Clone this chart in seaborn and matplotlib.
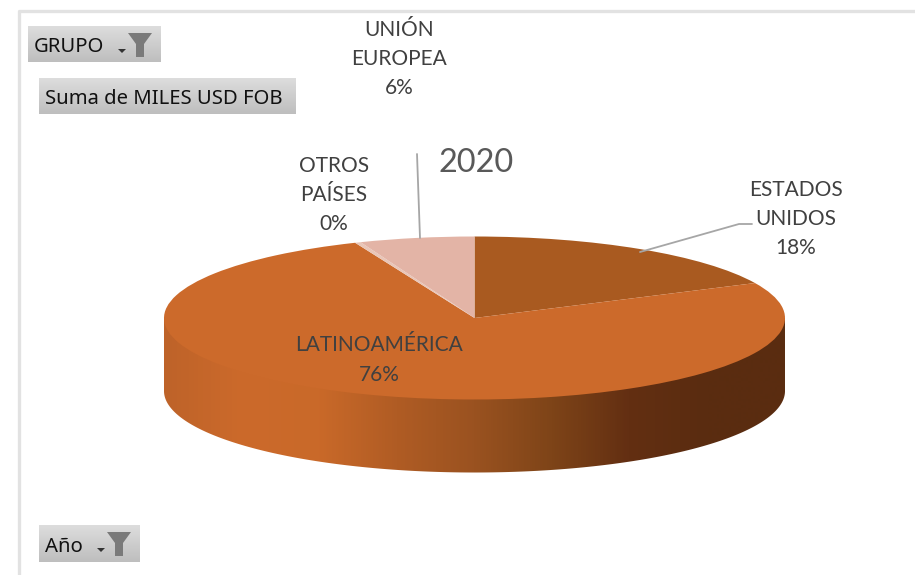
import numpy as np
import matplotlib
matplotlib.use("Agg")
import matplotlib.pyplot as plt
import seaborn as sns
from matplotlib.patches import PathPatch, Polygon
from matplotlib.path import Path

# Data
categories = ["ESTADOS\nUNIDOS", "LATINOAMÉRICA", "OTROS\nPAÍSES", "UNIÓN\nEUROPEA"]
values = [18, 76, 0.3, 6]
pct_labels = ["18%", "76%", "0%", "6%"]
slice_colors = ["#A95A20", "#CC6A2B", "#E9C6B8", "#E3B4A6"]
title = "2020"
buttons = ["GRUPO", "Suma de MILES USD FOB", "Año"]

# Gradient stops of the pie's side wall
wall_stops = ["#BE6329", "#CC6A2B", "#C96929", "#B05C24", "#9A5220",
              "#7E4418", "#632F12", "#5A2C10", "#5A2D10"]

sns.set_theme(style="white")
plt.rcParams["font.family"] = ["Lato", "DejaVu Sans"]

W, H = 915, 575
fig = plt.figure(figsize=(W / 100, H / 100), dpi=100, facecolor="white")


def pixel_axes(z):
    a = fig.add_axes([0, 0, 1, 1], zorder=z)
    a.set_xlim(0, W)
    a.set_ylim(H, 0)
    a.axis("off")
    a.patch.set_alpha(0)
    return a


back = pixel_axes(0)
front = pixel_axes(2)

# Geometry of the flattened pie, in pixels
cx, cy, rx, ry, depth = 474.5, 318, 310.5, 81.5, 73

# Chart frame
back.plot([18.5, 18.5, W], [H, 10.5, 10.5], color="#E2E2E2", lw=2.4, solid_capstyle="butt")

# Side wall: reaches up behind the top face so no seam shows
t = np.linspace(0, np.pi, 300)
xs = cx + rx * np.cos(t)
ys = cy + ry * np.sin(t) + depth
wall_xy = np.column_stack([np.r_[cx + rx, xs, cx - rx, cx + rx], np.r_[cy, ys, cy, cy]])
patch = PathPatch(Path(wall_xy, closed=True), facecolor="none", edgecolor="none",
                  transform=back.transData)
back.add_patch(patch)
cmap = sns.blend_palette(wall_stops, n_colors=256, as_cmap=True)
grad_pos = np.linspace(0, 1, 622)[None, :]
im = back.imshow(grad_pos, cmap=cmap, aspect="auto", vmin=0, vmax=1,
                 extent=(cx - rx, cx + rx, H, 0), zorder=1, interpolation="bilinear")
im.set_clip_path(patch)
back.set_xlim(0, W)
back.set_ylim(H, 0)

# Top face of the pie
pie_ax = fig.add_axes([(cx - rx) / W, 1 - (cy + ry) / H, 2 * rx / W, 2 * ry / H], zorder=1)
pie_ax.pie(values, colors=slice_colors, startangle=90, counterclock=False, radius=1,
           wedgeprops=dict(linewidth=0))
pie_ax.set_aspect("auto")
pie_ax.set_xlim(-1, 1)
pie_ax.set_ylim(-1, 1)
pie_ax.axis("off")
pie_ax.patch.set_alpha(0)

# Leader lines
front.plot([417, 420], [154, 238], color="#A6A6A6", lw=1.3)
front.plot([640, 739, 752], [252, 224, 224], color="#A6A6A6", lw=1.3)

# Data labels
txt = dict(color="#404040", fontsize=15, ha="center", va="center", linespacing=1.58)
front.text(796, 219, f"{categories[0]}\n{pct_labels[0]}", **txt)
front.text(379, 360, f"{categories[1]}\n{pct_labels[1]}", **txt)
front.text(334, 195, f"{categories[2]}\n{pct_labels[2]}", **txt)
front.text(399, 59, f"{categories[3]}\n{pct_labels[3]}", **txt)
front.text(476.5, 163, title, color="#595959", fontsize=23.4, ha="center", va="center")


# Pivot-chart field buttons
def button(x0, y0, x1, y1, label, funnel):
    g = sns.blend_palette(["#DDDDDD", "#BEBEBE"], n_colors=64, as_cmap=True)
    back.imshow(np.linspace(0, 1, 64)[:, None], cmap=g, aspect="auto", vmin=0, vmax=1,
                extent=(x0, x1, y1, y0), zorder=2)
    back.set_xlim(0, W)
    back.set_ylim(H, 0)
    front.text(x0 + 6, (y0 + y1) / 2 + 3, label, color="#111111", fontsize=14.6,
               family=["Noto Sans", "DejaVu Sans"], ha="left", va="center")
    if funnel:
        fx = x1 - 21
        fy = y0 + 7
        front.add_patch(Polygon([(fx - 12, fy), (fx + 12, fy), (fx + 4, fy + 11),
                                 (fx + 4, fy + 24), (fx - 4, fy + 24), (fx - 4, fy + 11)],
                                closed=True, facecolor="#7A7A7A", edgecolor="none"))
        front.add_patch(Polygon([(fx - 22, fy + 16), (fx - 14, fy + 16), (fx - 18, fy + 20)],
                                closed=True, facecolor="#333333", edgecolor="none"))


button(28, 26, 161, 62, buttons[0], True)
button(39, 78, 296, 114, buttons[1], False)
button(39, 525, 140, 562, buttons[2], True)

fig.savefig("out.png", dpi=100, facecolor="white")
